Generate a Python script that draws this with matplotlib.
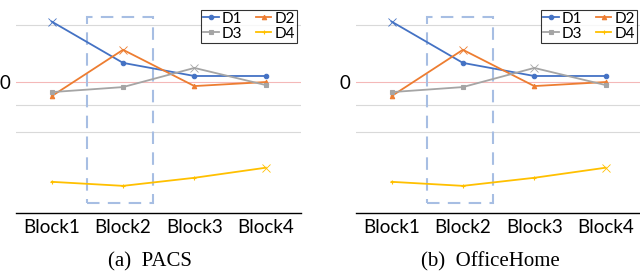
import matplotlib
matplotlib.use("Agg")
import matplotlib.pyplot as plt
from matplotlib.patches import Rectangle

blocks = ["Block1", "Block2", "Block3", "Block4"]
series_names = ["D1", "D2", "D3", "D4"]
d1 = [6.0, 1.9, 0.6, 0.6]
d2 = [-1.4, 3.2, -0.4, 0.0]
d3 = [-1.0, -0.5, 1.4, -0.3]
d4 = [-9.9, -10.3, -9.5, -8.5]
series = [d1, d2, d3, d4]
x_mark_index = [0, 1, 2, 3]  # point drawn with an 'x' marker in each series
grid_values = [5.7, -2.3, -5.0]
captions = ["(a)  PACS", "(b)  OfficeHome"]

colors = ["#4472C4", "#ED7D31", "#A5A5A5", "#FFC000"]
markers = ["o", "^", "s", "+"]

fig = plt.figure(figsize=(6.4, 2.76), dpi=100)
axes_pos = [[0.025, 0.228, 0.446, 0.745], [0.556, 0.228, 0.446, 0.745]]
caption_x = [0.234, 0.766]

for k, pos in enumerate(axes_pos):
    ax = fig.add_axes(pos)
    x = list(range(len(blocks)))
    for gv in grid_values:
        ax.axhline(gv, color="#D9D9D9", lw=0.8, zorder=0)
    ax.axhline(0, color="#F4B8B8", lw=0.8, zorder=0)
    handles = []
    for s, name, c, m, xi in zip(series, series_names, colors, markers, x_mark_index):
        every = [i for i in x if i != xi]
        h, = ax.plot(x, s, color=c, lw=1.3, marker=m, ms=3.2, mew=0.8,
                     markevery=every, label=name, zorder=3)
        ax.plot([x[xi]], [s[xi]], color=c, marker="x", ms=5.5, mew=0.6, ls="none", zorder=3)
        handles.append(h)
    ax.add_patch(Rectangle((0.5, -12.0), 0.92, 18.5, fill=False, ec="#A7BEE3",
                           lw=1.5, ls=(0, (6, 4)), zorder=2))
    ax.set_xlim(-0.5, 3.5)
    ax.set_ylim(-13.0, 7.4)
    ax.set_xticks(x)
    ax.set_xticklabels(blocks, fontsize=13.5, family="Lato")
    ax.set_yticks([0])
    ax.set_yticklabels(["0"], fontsize=13.5, family="Lato")
    ax.tick_params(axis="y", length=0, pad=4)
    ax.tick_params(axis="x", length=0, pad=4)
    for sp in ["top", "right", "left"]:
        ax.spines[sp].set_visible(False)
    ax.spines["bottom"].set_color("black")
    ax.spines["bottom"].set_linewidth(1.0)
    order = [0, 2, 1, 3]
    leg = ax.legend(handles=[handles[i] for i in order], ncol=2, loc="upper right",
                    bbox_to_anchor=(0.985, 0.99),
                    prop={"family": "Lato", "size": 11},
                    frameon=True, fancybox=False, edgecolor="black",
                    handlelength=1.0, handletextpad=0.2, columnspacing=0.9,
                    borderpad=0.15, labelspacing=0.05, borderaxespad=0.0)
    leg.get_frame().set_linewidth(0.8)
    fig.text(caption_x[k], 0.035, captions[k], ha="center", va="baseline",
             fontsize=15, family="Liberation Serif")

fig.savefig("out.png", dpi=100)
